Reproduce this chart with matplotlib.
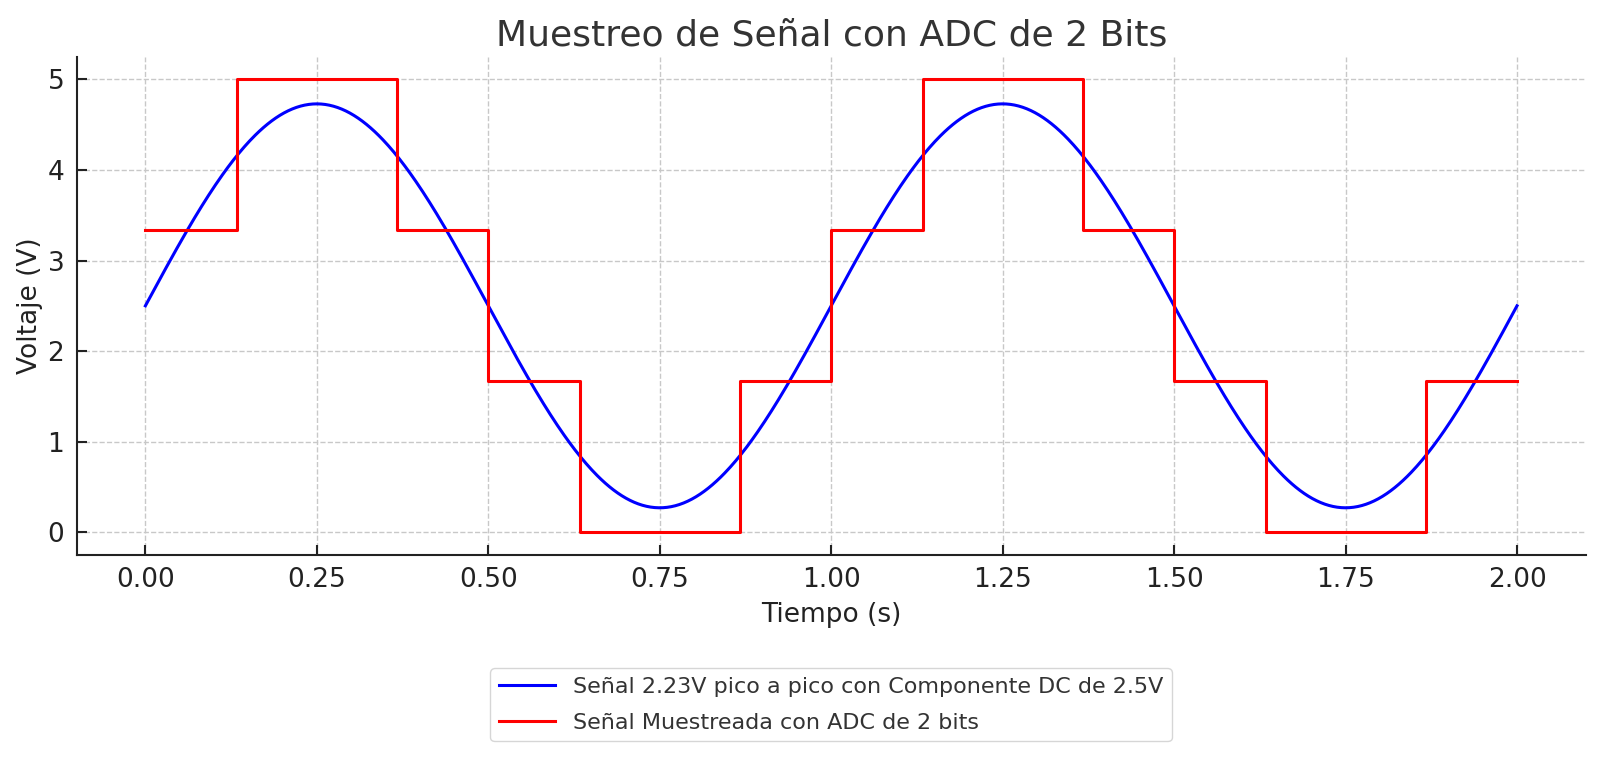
import numpy as np
import matplotlib
matplotlib.use("Agg")
import matplotlib.pyplot as plt

dc_offset = 2.5
amplitude = 2.23
frequency = 1.0
t_start, t_end = 0.0, 2.0

# Quantized (2-bit ADC) signal: step edges and levels
step_edges = [0.0, 0.1333, 0.3667, 0.5, 0.6333, 0.8667, 1.0,
              1.1333, 1.3667, 1.5, 1.6333, 1.8667, 2.0]
step_levels = [3.333, 5.0, 3.333, 1.667, 0.0, 1.667,
               3.333, 5.0, 3.333, 1.667, 0.0, 1.667]

x_ticks = [0.00, 0.25, 0.50, 0.75, 1.00, 1.25, 1.50, 1.75, 2.00]
y_ticks = [0, 1, 2, 3, 4, 5]

label_sine = "Señal 2.23V pico a pico con Componente DC de 2.5V"
label_adc = "Señal Muestreada con ADC de 2 bits"

t = np.linspace(t_start, t_end, 1000)
signal = dc_offset + amplitude * np.sin(2 * np.pi * frequency * t)

fig = plt.figure(figsize=(16, 7.57), dpi=100)
ax = fig.add_axes([0.048, 0.267, 0.943, 0.658])

ax.plot(t, signal, color="blue", lw=2.2, label=label_sine)
ax.step(step_edges, step_levels + [step_levels[-1]], where="post",
        color="red", lw=2.2, label=label_adc)

ax.set_xticks(x_ticks)
ax.set_xticklabels([f"{v:.2f}" for v in x_ticks])
ax.set_yticks(y_ticks)
ax.set_xlim(-0.1, 2.1)
ax.set_ylim(-0.25, 5.25)

ax.grid(True, linestyle="--", color="#c8c8c8", lw=1)
ax.set_axisbelow(True)
for s in ["top", "right"]:
    ax.spines[s].set_visible(False)
for s in ["left", "bottom"]:
    ax.spines[s].set_linewidth(1.5)
    ax.spines[s].set_color("#222222")
ax.tick_params(direction="in", length=7, width=1.5, labelsize=19,
               colors="#222222", pad=9)

ax.set_title("Muestreo de Señal con ADC de 2 Bits", fontsize=26,
             color="#333333", pad=8)
ax.set_xlabel("Tiempo (s)", fontsize=19, color="#222222", labelpad=6)
ax.set_ylabel("Voltaje (V)", fontsize=19, color="#222222", labelpad=3)

leg = ax.legend(loc="upper center", bbox_to_anchor=(0.5, -0.205),
                fontsize=16, frameon=True, fancybox=True,
                edgecolor="#cccccc", handlelength=2.5, labelspacing=0.7)
for txt in leg.get_texts():
    txt.set_color("#333333")

fig.savefig("out.png", dpi=100)
